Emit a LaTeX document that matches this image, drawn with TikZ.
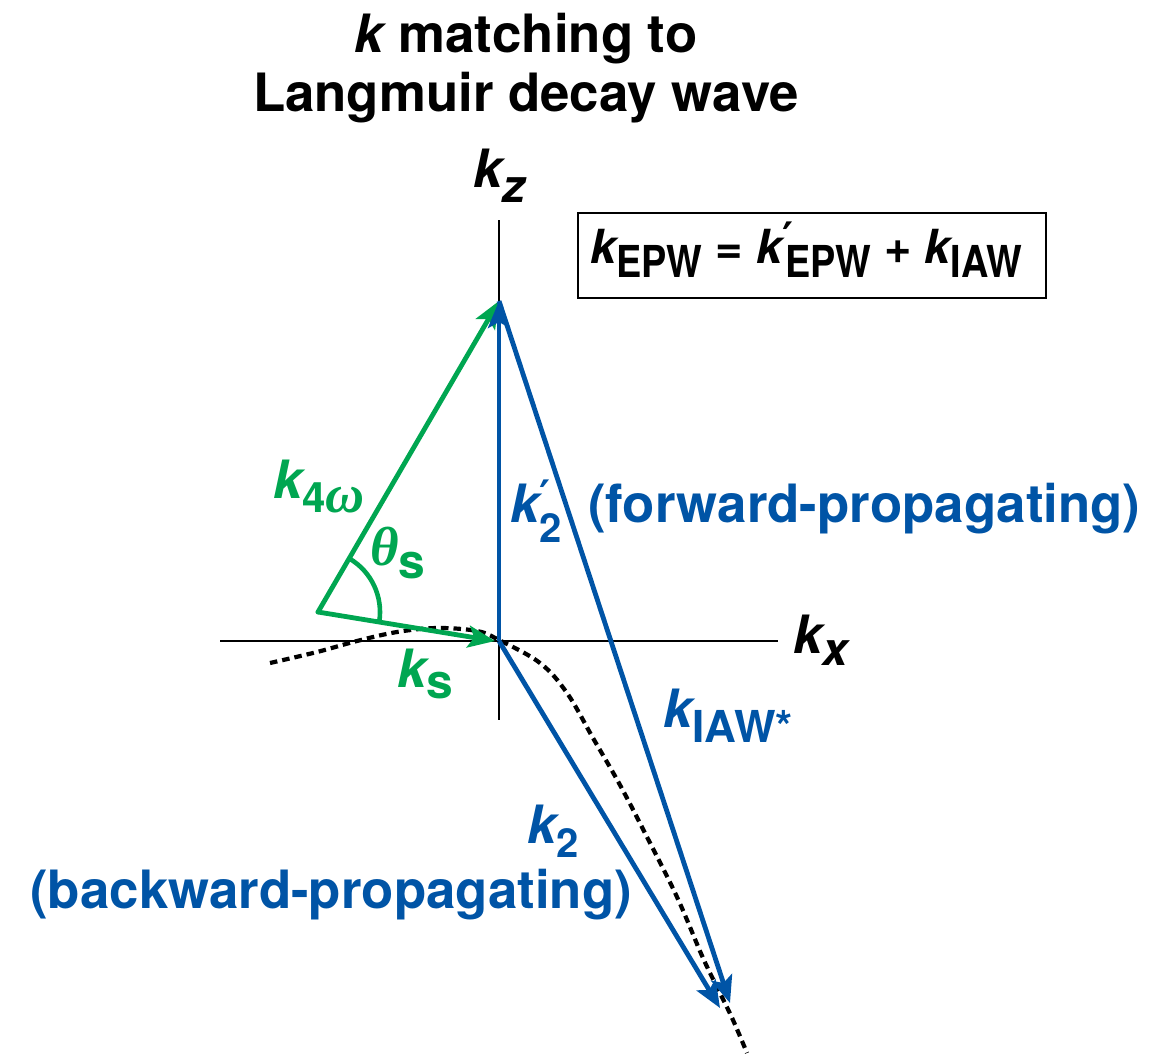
\documentclass[tikz,border=0pt]{standalone}
\usepackage{fontspec}
\usepackage{graphicx}
\setmainfont{TeX Gyre Heros}
\newfontfamily\grk{Liberation Serif}
\newfontfamily\prm{DejaVu Sans}
\usetikzlibrary{arrows.meta,calc}
\definecolor{kgreen}{RGB}{0,166,81}
\definecolor{kblue}{RGB}{0,84,166}
\newcommand\fsz[1]{\fontsize{#1}{#1}\selectfont}
\newcommand\kv{{\itshape k}}
\newcommand\lsub[3]{\raisebox{-#1pt}{\fsz{#2}#3}}
\newcommand\csub[3]{\raisebox{-#1pt}{\scalebox{0.86}[1]{\fsz{#2}#3}}}
\newcommand\kprime{\rlap{\raisebox{0.22em}{\hspace{0.0em}{\prm\bfseries\fsz{42}′}}}}
\begin{document}
\begin{tikzpicture}[x=1pt,y=-1pt,
  lbl/.style={inner sep=0pt, anchor=base west, font=\fsz{52.8}\bfseries},
  titletext/.style={inner sep=0pt, anchor=base, font=\fsz{52.8}\bfseries},
  axisline/.style={line width=2.3pt, black},
  dashcurve/.style={line width=4.2pt, black, dash pattern=on 7.5pt off 5pt},
  gvec/.style={line width=4.8pt, kgreen, line cap=round, line join=round, -{Stealth[length=27pt,width=22pt,inset=6pt]}},
  bvec/.style={line width=4.8pt, kblue, -{Stealth[length=27pt,width=22pt,inset=6pt]}},
  anglearc/.style={line width=4.6pt, kgreen},
  eqbox/.style={line width=2pt, black}
]
\useasboundingbox (0,0) rectangle (1156,1058);
% coordinates
\coordinate (O) at (499,641);
\coordinate (T) at (499,301);
\coordinate (S) at (318,612);
\coordinate (Ks) at (495,641);
\coordinate (B1) at (720,1008);
\coordinate (B2) at (730,1003);
\coordinate (zt) at (499,220);
\coordinate (zb) at (499,720);
\coordinate (xl) at (220,641);
\coordinate (xr) at (778,641);
% title
\node[titletext] (t1) at (526,52) {{\itshape k} matching to};
\node[titletext] (t2) at (526,111) {Langmuir decay wave};
% axes
\draw[axisline] (zt) -- (zb);
\draw[axisline] (xl) -- (xr);
\node[lbl] (kz) at (473,187) {\kv\lsub{15}{46}{\itshape z}};
\node[lbl] (kx) at (793,653) {\kv\lsub{12}{46}{\itshape x}};
% equation box
\draw[eqbox] (578,213) rectangle (1046,298);
\node[lbl, font=\fsz{47}\bfseries] (eq) at (590,263) {\kv\csub{14}{44}{EPW} = \kv\kprime\hspace{0.06em}\csub{14}{44}{EPW} + \kv\csub{14}{44}{IAW}};
% dispersion curve
\draw[dashcurve] plot[smooth, tension=0.6] coordinates {(270,663) (317,652) (357,641) (397,632) (437,628) (477,631) (499,640) (540,663) (567,693) (593,738) (620,785) (647,837) (677,897) (703,958) (720,993) (733,1020) (747,1053)};
% green vectors
\draw[anglearc] ($(S)+(9.2:62)$) arc[start angle=9.2, end angle=-59.6, radius=62];
\draw[gvec] (S) -- (T);
\draw[gvec] (S) -- (Ks);
% blue vectors
\draw[bvec] (O) -- (T);
\draw[bvec] (O) -- (B1);
\draw[bvec] (T) -- (B2);
% green labels
\node[lbl, text=kgreen] (k4w) at (273,498) {\kv\lsub{14}{42}{4{\grk\itshape\fsz{54}ω}}};
\node[lbl, text=kgreen] (th) at (370,565) {{\grk\itshape\fsz{55}θ}\lsub{13}{48}{s}};
\node[lbl, text=kgreen] (ks) at (397,687) {\kv\lsub{11}{48}{s}};
% blue labels
\node[lbl, text=kblue] (k2p) at (510,522) {\kv\kprime\lsub{20}{40}{2}};
\node[lbl, text=kblue] (fwd) at (588,522) {(forward-propagating)};
\node[lbl, text=kblue] (kiaw) at (663,727) {\kv\lsub{15}{44}{IAW*}};
\node[lbl, text=kblue] (k2) at (527,843) {\kv\lsub{14}{40}{2}};
\node[lbl, text=kblue] (bwd) at (30,908) {(backward-propagating)};
\end{tikzpicture}
\end{document}
